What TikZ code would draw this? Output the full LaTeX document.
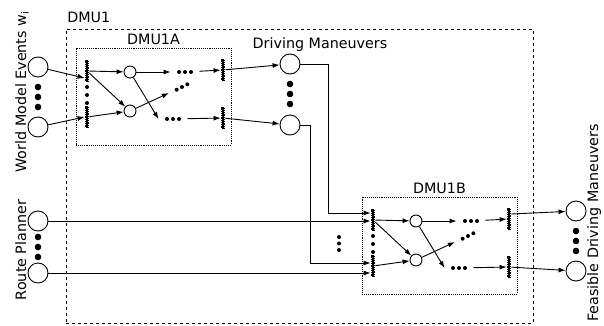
\documentclass[tikz,border=0pt]{standalone}
\usepackage{fontspec}
\setmainfont{DejaVu Sans}
\usetikzlibrary{arrows.meta,calc}

\tikzset{
  bigcirc/.style={circle,draw,minimum size=20pt,inner sep=0pt},
  smallcirc/.style={circle,draw,minimum size=12pt,inner sep=0pt},
  bar/.style={rectangle,inner sep=0pt,minimum width=2.8pt,minimum height=20pt,fill=black,draw=black,line width=2pt,dash pattern=on 1pt off 0.8pt},
  dotgrp/.style={rectangle,inner sep=0pt,minimum width=28pt,minimum height=5pt},
  arr/.style={-{Latex[length=7pt,width=5pt]}},
  dmubox/.style={draw,densely dotted,inner sep=0pt,minimum width=155pt,minimum height=97pt}
}

\begin{document}
\begin{tikzpicture}[x=1pt,y=-1pt,line width=0.9pt,font=\fontsize{14.3}{17}\selectfont]
\useasboundingbox (0,0) rectangle (604,326);

\node[draw,dashed,inner sep=0pt,minimum width=467pt,minimum height=294pt] (dmu1) at (299.5,176) {};
\node[anchor=base west] (dmu1lab) at ([xshift=-2pt,yshift=6pt]dmu1.north west) {DMU1};

\foreach \p/\dx/\dy/\nm in {a/0/0/DMU1A,b/286/149/DMU1B}{
\begin{scope}[shift={(\dx,\dy)},name prefix=\p-]
\node[dmubox] (box) at (153.5,96.5) {};
\node[anchor=base] (lab) at ([yshift=3pt]box.north) {\nm};
\node[bar] (l1) at (87,71) {};
\node[bar] (l2) at (87,117) {};
\foreach \y in {87,95,103}
  \fill (87,\y) circle (2pt);
\node[smallcirc] (c1) at (130,72) {};
\node[smallcirc] (c2) at (130,111) {};
\node[dotgrp] (d1) at (185,72) {};
\node[dotgrp,rotate=27] (d2) at (182,87) {};
\node[dotgrp] (d3) at (173,119) {};
\foreach \g in {d1,d2,d3}
  \foreach \s in {-6pt,0pt,6pt}
    \fill ($(\g.center)!\s!(\g.east)$) circle (2pt);
\node[bar] (r1) at (223,70) {};
\node[bar] (r2) at (223,118) {};
\draw[arr] (l1) -- (c1);
\draw[arr] (l1) -- (c2);
\draw[arr] (l2) -- (c2);
\draw[arr] (c1) -- (d1);
\draw[arr] (c1) -- (d3.west);
\draw[arr] (c2) -- (d2);
\draw[arr] (d1) -- (r1);
\draw[arr] (d3) -- (r2);
\end{scope}
}

\node[bigcirc] (wa) at (38,67) {};
\node[bigcirc] (wb) at (38,127) {};
\foreach \y in {87,97,107}
  \fill (38,\y) circle (3.3pt);
\node[rotate=90,anchor=base] (wlab) at (26,92) {World Model Events w\textsubscript{i}};

\node[bigcirc] (ra) at (38,221) {};
\node[bigcirc] (rb) at (38,273) {};
\foreach \y in {237,247,257}
  \fill (38,\y) circle (3.3pt);
\node[rotate=90,anchor=base] (rlab) at (26,250) {Route Planner};

\node[bigcirc] (ma) at (290,64) {};
\node[bigcirc] (mb) at (290,125) {};
\foreach \y in {84,94,104}
  \fill (290,\y) circle (3.3pt);
\node[anchor=base] (mlab) at (320,49) {Driving Maneuvers};

\node[bigcirc] (fa) at (576,211) {};
\node[bigcirc] (fb) at (576,271) {};
\foreach \y in {231,241,251}
  \fill (576,\y) circle (3.3pt);
\node[rotate=90,anchor=base] (flab) at (598,223) {Feasible Driving Maneuvers};

\foreach \y in {237,243.5,250}
  \fill (339,\y) circle (2pt);

\draw[arr] (wa) -- ([yshift=-7pt]a-l1.west);
\draw[arr] (wb) -- (a-l2.west);
\draw[arr] (a-r1) -- (ma);
\draw[arr] (a-r2) -- (mb);
\draw[arr] (ma) -- ++(38,0) |- ([yshift=7pt]b-l1.west);
\draw[arr] (mb) -- ++(20,0) |- ([yshift=3pt]b-l2.west);
\draw[arr] (ra) -- (ra -| b-l1.west);
\draw[arr] (rb) -- (rb -| b-l2.west);
\draw[arr] ([yshift=5pt]b-r1.east) -- (fa);
\draw[arr] (b-r2) -- (fb);

\end{tikzpicture}
\end{document}
